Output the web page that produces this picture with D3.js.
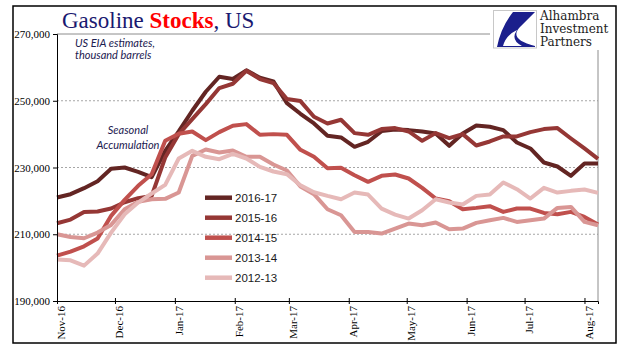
<!DOCTYPE html>
<html>
<head>
<meta charset="utf-8">
<script src="https://d3js.org/d3.v7.min.js"></script>
<style>
  body { margin: 0; background: #fff; }
  svg { display: block; }
</style>
</head>
<body>
<div id="chart"></div>
<script>
// Gasoline stocks, US - weekly EIA estimates (thousand barrels), seasons overlaid on the 2016-17 calendar

// Weekly dates (Fridays), Nov 4 2016 .. Aug 11 2017
const weekStart = new Date(2016, 10, 4);
const weekEnd = new Date(2017, 7, 12);
const weeks = d3.timeFriday.range(weekStart, weekEnd);

const seasons = ['2016-17', '2015-16', '2014-15', '2013-14', '2012-13'];
const seasonColors = ['#632523', '#953735', '#c0504d', '#d99694', '#e6b9b8'];

const stocks1617 = [
    221000, 222000, 223800, 225900, 229600, 230000, 228700, 227100, 235000, 240800,
    247000, 252700, 257200, 256500, 259100, 256900, 255800, 249300, 246100, 243200,
    239500, 239000, 236200, 237700, 240900, 241400, 241200, 240800, 240200, 236500,
    240200, 242600, 242200, 241200, 237500, 235700, 231500, 230300, 227500, 231200,
    231200
];
const stocks1516 = [
    213300, 214400, 216700, 216800, 217700, 219600, 220800, 221500, 233000, 240000,
    244500, 249000, 253800, 255100, 259000, 256500, 255300, 250500, 249900, 245200,
    243200, 244300, 240300, 239800, 241500, 241800, 240800, 238000, 240300, 238800,
    240000, 236600, 237800, 239300, 239300, 240600, 241500, 241800, 238700, 235700,
    232600
];
const stocks1415 = [
    203600, 204800, 206400, 208700, 215500, 220300, 224500, 228000, 238000, 240100,
    240800, 238200, 240600, 242500, 243000, 239800, 240000, 239800, 235300, 233200,
    229800, 229900, 227700, 225700, 227500, 227900, 226700, 223900, 220700, 219900,
    217500, 217900, 218400, 216700, 217700, 217700, 216400, 216000, 216700, 215200,
    212900
];
const stocks1314 = [
    210000, 209200, 208800, 210500, 212800, 217500, 219700, 220500, 220600, 222500,
    233500, 235400, 234500, 235100, 233200, 233200, 230900, 229100, 224300, 222000,
    217500, 215700, 210700, 210700, 210200, 211700, 213200, 212700, 213500, 211500,
    211700, 213400, 214200, 214900, 213700, 214200, 214700, 217900, 218200, 213700,
    212700
];
const stocks1213 = [
    202400, 202200, 200600, 204200, 210500, 216000, 219500, 222200, 224800, 232700,
    235000, 233200, 232500, 234100, 232700, 230200, 228800, 228000, 224700, 222600,
    221500, 220500, 222500, 221900, 217700, 215900, 214700, 217200, 220500, 219500,
    218900, 221500, 221900, 225500, 223500, 220700, 223900, 222500, 223000, 223400,
    222400
];
const seriesValues = [stocks1617, stocks1516, stocks1415, stocks1314, stocks1213];

const yTicks = [190000, 210000, 230000, 250000, 270000];
const gridTicks = [210000, 230000, 250000];

document.addEventListener('DOMContentLoaded', function() {
    const width = 641, height = 361;
    const plot = { left: 57, right: 598, top: 34, bottom: 301 };

    const svg = d3.select('#chart')
        .append('svg')
        .attr('width', width)
        .attr('height', height);

    const x = d3.scaleTime()
        .domain([weeks[0], weeks[weeks.length - 1]])
        .range([plot.left, plot.right]);

    const y = d3.scaleLinear()
        .domain([190000, 270000])
        .range([plot.bottom, plot.top]);

    // outer frame
    svg.append('rect')
        .attr('x', 13).attr('y', 6)
        .attr('width', 603).attr('height', 337)
        .attr('fill', 'none')
        .attr('stroke', '#000')
        .attr('stroke-width', 1.5);

    // gridlines
    svg.append('g')
        .selectAll('line')
        .data(gridTicks)
        .enter()
        .append('line')
        .attr('x1', plot.left).attr('x2', plot.right)
        .attr('y1', d => y(d)).attr('y2', d => y(d))
        .attr('stroke', '#a6a6a6')
        .attr('stroke-dasharray', '2,2');

    // plot area border (top/right, grey)
    svg.append('path')
        .attr('d', `M${plot.left},${y(270000)}H${plot.right}V${plot.bottom}`)
        .attr('fill', 'none')
        .attr('stroke', '#8c8c8c');

    // series lines
    const line = d3.line()
        .x((d, i) => x(weeks[i]))
        .y(d => y(d));

    svg.append('g')
        .selectAll('path')
        .data(seriesValues)
        .enter()
        .append('path')
        .attr('d', line)
        .attr('fill', 'none')
        .attr('stroke', (d, i) => seasonColors[i])
        .attr('stroke-width', 4)
        .attr('stroke-linejoin', 'round');

    // y axis
    const yAxis = svg.append('g')
        .attr('transform', `translate(${plot.left},0)`)
        .call(d3.axisLeft(y).tickValues(yTicks).tickFormat(d3.format(',')).tickSize(4).tickPadding(3));
    yAxis.select('.domain').attr('stroke', '#000');
    yAxis.selectAll('text')
        .attr('font-family', '"Liberation Serif", serif')
        .attr('font-size', 11)
        .attr('fill', '#000');

    // x axis (monthly ticks from first week)
    const monthTicks = d3.range(10).map(k => d3.timeMonth.offset(weeks[0], k));
    const xAxis = svg.append('g')
        .attr('transform', `translate(0,${plot.bottom})`)
        .call(d3.axisBottom(x).tickValues(monthTicks).tickFormat(d3.timeFormat('%b-%y')).tickSize(3));
    xAxis.select('.domain').attr('stroke', '#000');
    xAxis.selectAll('.tick line').attr('y1', -3).attr('y2', 3).attr('stroke', '#000');
    xAxis.selectAll('text')
        .attr('font-family', '"Liberation Serif", serif')
        .attr('font-size', 11)
        .attr('fill', '#000')
        .attr('text-anchor', 'end')
        .attr('transform', 'translate(4,5) rotate(-90)')
        .attr('x', 0)
        .attr('y', 0)
        .attr('dy', '0.35em');

    // legend
    const legend = svg.append('g')
        .selectAll('g')
        .data(seasons)
        .enter()
        .append('g')
        .attr('transform', (d, i) => `translate(205,${197.7 + i * 20})`);
    legend.append('line')
        .attr('x1', 0).attr('x2', 27)
        .attr('stroke', (d, i) => seasonColors[i])
        .attr('stroke-width', 4.5);
    legend.append('text')
        .attr('x', 30)
        .attr('dy', '0.36em')
        .attr('font-family', '"Liberation Sans", Arial, sans-serif')
        .attr('font-size', 11.5)
        .attr('fill', '#1a1a1a')
        .text(d => d);

    // annotations
    const note = svg.append('g')
        .attr('font-family', 'Lato, sans-serif')
        .attr('font-style', 'italic')
        .attr('font-size', 11)
        .attr('fill', '#1c2050');
    note.append('text').attr('x', 75).attr('y', 46.5).text('US EIA estimates,');
    note.append('text').attr('x', 75).attr('y', 58.5).text('thousand barrels');
    note.append('text').attr('x', 128).attr('y', 133.5).attr('text-anchor', 'middle').text('Seasonal');
    note.append('text').attr('x', 128).attr('y', 148.5).attr('text-anchor', 'middle').text('Accumulation');

    // title
    const title = svg.append('text')
        .attr('x', 62).attr('y', 28)
        .attr('font-family', '"Liberation Serif", serif')
        .attr('font-size', 23)
        .attr('fill', '#191970');
    title.append('tspan').text('Gasoline ');
    title.append('tspan').attr('fill', '#ff0000').attr('font-weight', 'bold').text('Stocks');
    title.append('tspan').text(', US');

    // logo block (covers the plot border corner)
    svg.append('rect')
        .attr('x', 490).attr('y', 8)
        .attr('width', 124).attr('height', 42)
        .attr('fill', '#fff');
    svg.append('rect')
        .attr('x', 493.5).attr('y', 10.5)
        .attr('width', 43).attr('height', 37.5)
        .attr('fill', '#fff')
        .attr('stroke', '#c8c8c8');
    svg.append('path')
        .attr('d', 'M513,12 L535,12 L521,26 Q507,39 535,46 L535,47 L497,47 Q501,27 513,12 Z')
        .attr('fill', '#1b1f8c');
    svg.append('path')
        .attr('d', 'M503,46 Q506,35 517,30 Q510,40 522,46 Z')
        .attr('fill', '#fff');
    const logo = svg.append('text')
        .attr('font-family', '"DejaVu Serif", serif')
        .attr('font-size', 12)
        .attr('fill', '#222');
    ['Alhambra', 'Investment', 'Partners'].forEach((t, i) => {
        logo.append('tspan').attr('x', 540).attr('y', 20 + i * 13).text(t);
    });
});
</script>
</body>
</html>
